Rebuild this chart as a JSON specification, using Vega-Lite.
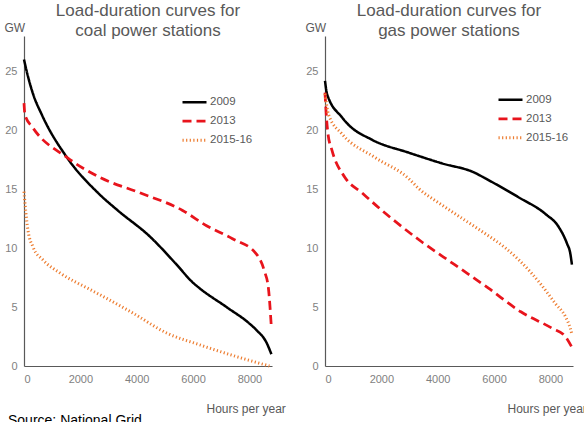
{
  "$schema": "https://vega.github.io/schema/vega-lite/v6.json",
  "padding": {"left": 4, "top": 2, "right": 0, "bottom": 0},
  "background": "white",
  "config": {
    "view": {"stroke": null},
    "font": "Liberation Sans",
    "axis": {"grid": false, "ticks": false, "domainColor": "#595959", "domainWidth": 1.2, "labelColor": "#7f7f7f", "labelFontSize": 11, "labelPadding": 7, "titleFontWeight": "normal", "titleColor": "#595959", "titleFontSize": 12},
    "legend": {"orient": "none", "title": null, "symbolType": "stroke", "symbolSize": 576, "rowPadding": 0, "padding": 0, "symbolOffset": 0, "labelOffset": 2, "labelFontSize": 11.5, "labelColor": "#595959"},
    "title": {"fontSize": 17, "fontWeight": "normal", "color": "#595959", "lineHeight": 20}
  },
  "datasets": {
    "coal": [
      {"s": "2009", "h": 0, "gw": 26.0}, {"s": "2009", "h": 106, "gw": 24.9}, {"s": "2009", "h": 319, "gw": 23.1}, {"s": "2009", "h": 637, "gw": 21.3}, {"s": "2009", "h": 1522, "gw": 17.7}, {"s": "2009", "h": 2620, "gw": 14.7}, {"s": "2009", "h": 3327, "gw": 13.2}, {"s": "2009", "h": 4460, "gw": 11.0}, {"s": "2009", "h": 5416, "gw": 8.6}, {"s": "2009", "h": 5982, "gw": 7.1}, {"s": "2009", "h": 6230, "gw": 6.6}, {"s": "2009", "h": 7186, "gw": 5.0}, {"s": "2009", "h": 8000, "gw": 3.6}, {"s": "2009", "h": 8248, "gw": 3.05}, {"s": "2009", "h": 8602, "gw": 2.0}, {"s": "2009", "h": 8779, "gw": 1.0},
      {"s": "2013", "h": 0, "gw": 22.3}, {"s": "2013", "h": 35, "gw": 21.3}, {"s": "2013", "h": 319, "gw": 20.2}, {"s": "2013", "h": 1522, "gw": 17.7}, {"s": "2013", "h": 2690, "gw": 16.0}, {"s": "2013", "h": 4106, "gw": 14.7}, {"s": "2013", "h": 5628, "gw": 13.2}, {"s": "2013", "h": 6478, "gw": 11.9}, {"s": "2013", "h": 7398, "gw": 10.8}, {"s": "2013", "h": 8248, "gw": 9.5}, {"s": "2013", "h": 8531, "gw": 8.05}, {"s": "2013", "h": 8673, "gw": 6.6}, {"s": "2013", "h": 8779, "gw": 3.2},
      {"s": "2015-16", "h": 0, "gw": 14.8}, {"s": "2015-16", "h": 35, "gw": 13.8}, {"s": "2015-16", "h": 142, "gw": 11.5}, {"s": "2015-16", "h": 319, "gw": 10.1}, {"s": "2015-16", "h": 673, "gw": 9.0}, {"s": "2015-16", "h": 1274, "gw": 7.9}, {"s": "2015-16", "h": 2336, "gw": 6.5}, {"s": "2015-16", "h": 2690, "gw": 6.05}, {"s": "2015-16", "h": 3858, "gw": 4.5}, {"s": "2015-16", "h": 5062, "gw": 2.8}, {"s": "2015-16", "h": 6230, "gw": 1.8}, {"s": "2015-16", "h": 7398, "gw": 0.9}, {"s": "2015-16", "h": 8708, "gw": 0.0}
    ],
    "gas": [
      {"s": "2009", "h": 0, "gw": 24.2}, {"s": "2009", "h": 71, "gw": 23.1}, {"s": "2009", "h": 602, "gw": 21.1}, {"s": "2009", "h": 779, "gw": 20.6}, {"s": "2009", "h": 1664, "gw": 19.2}, {"s": "2009", "h": 2973, "gw": 18.1}, {"s": "2009", "h": 4142, "gw": 17.2}, {"s": "2009", "h": 5310, "gw": 16.4}, {"s": "2009", "h": 5705, "gw": 15.9}, {"s": "2009", "h": 6159, "gw": 15.3}, {"s": "2009", "h": 6881, "gw": 14.3}, {"s": "2009", "h": 7822, "gw": 12.9}, {"s": "2009", "h": 8292, "gw": 11.8}, {"s": "2009", "h": 8585, "gw": 10.4}, {"s": "2009", "h": 8704, "gw": 9.55}, {"s": "2009", "h": 8762, "gw": 8.6},
      {"s": "2013", "h": 0, "gw": 23.2}, {"s": "2013", "h": 35, "gw": 21.7}, {"s": "2013", "h": 106, "gw": 19.7}, {"s": "2013", "h": 248, "gw": 18.3}, {"s": "2013", "h": 708, "gw": 16.0}, {"s": "2013", "h": 1310, "gw": 14.7}, {"s": "2013", "h": 2018, "gw": 13.2}, {"s": "2013", "h": 2372, "gw": 12.5}, {"s": "2013", "h": 3450, "gw": 10.5}, {"s": "2013", "h": 4600, "gw": 8.6}, {"s": "2013", "h": 5800, "gw": 6.6}, {"s": "2013", "h": 6950, "gw": 4.6}, {"s": "2013", "h": 8057, "gw": 3.2}, {"s": "2013", "h": 8528, "gw": 2.5}, {"s": "2013", "h": 8760, "gw": 1.6},
      {"s": "2015-16", "h": 0, "gw": 23.1}, {"s": "2015-16", "h": 130, "gw": 21.3}, {"s": "2015-16", "h": 600, "gw": 19.7}, {"s": "2015-16", "h": 1770, "gw": 17.7}, {"s": "2015-16", "h": 2973, "gw": 15.9}, {"s": "2015-16", "h": 3350, "gw": 15.0}, {"s": "2015-16", "h": 4000, "gw": 13.9}, {"s": "2015-16", "h": 4881, "gw": 12.5}, {"s": "2015-16", "h": 5705, "gw": 11.2}, {"s": "2015-16", "h": 6410, "gw": 10.0}, {"s": "2015-16", "h": 6881, "gw": 9.0}, {"s": "2015-16", "h": 7704, "gw": 6.8}, {"s": "2015-16", "h": 8175, "gw": 5.3}, {"s": "2015-16", "h": 8528, "gw": 4.2}, {"s": "2015-16", "h": 8704, "gw": 3.2}, {"s": "2015-16", "h": 8770, "gw": 2.6}
    ]
  },
  "title": {"text": "Source: National Grid", "orient": "bottom", "anchor": "start", "fontSize": 14, "color": "#000000", "offset": 0, "dx": 4},
  "spacing": 53,
  "bounds": "flush",
  "resolve": {
    "scale": {"color": "independent", "strokeDash": "independent", "strokeWidth": "independent"},
    "legend": {"color": "independent", "strokeDash": "independent", "strokeWidth": "independent"}
  },
  "hconcat": [
    {
      "width": 248,
      "height": 330,
      "data": {"name": "coal"},
      "title": {"text": ["Load-duration curves for", "coal power stations"], "frame": "group", "offset": -19, "anchor": "middle"},
      "mark": {"type": "line", "interpolate": "monotone"},
      "encoding": {
        "x": {"field": "h", "type": "quantitative", "scale": {"domain": [0, 8800], "nice": false}, "axis": {"values": [0, 2000, 4000, 6000, 8000], "format": "d", "title": "Hours per year", "titleAlign": "left", "titleX": 182, "titleY": 42, "titleBaseline": "middle"}},
        "y": {"field": "gw", "type": "quantitative", "scale": {"domain": [0, 28], "nice": false}, "axis": {"values": [0, 5, 10, 15, 20, 25], "title": "GW", "titleAngle": 0, "titleAlign": "left", "titleX": -20, "titleY": -9, "titleBaseline": "middle"}},
        "color": {"field": "s", "type": "nominal", "scale": {"domain": ["2009", "2013", "2015-16"], "range": ["#000000", "#e8141c", "#ed7d31"]}, "legend": {"legendX": 157, "legendY": 52.7}},
        "strokeDash": {"field": "s", "type": "nominal", "scale": {"domain": ["2009", "2013", "2015-16"], "range": [[1, 0], [9, 5], [1.2, 2.4]]}, "legend": {"legendX": 157, "legendY": 52.7}},
        "strokeWidth": {"field": "s", "type": "ordinal", "scale": {"domain": ["2009", "2013", "2015-16"], "range": [2.5, 3, 1.2]}, "legend": {"legendX": 157, "legendY": 52.7}}
      }
    },
    {
      "width": 248,
      "height": 330,
      "data": {"name": "gas"},
      "title": {"text": ["Load-duration curves for", "gas power stations"], "frame": "group", "offset": -19, "anchor": "middle"},
      "mark": {"type": "line", "interpolate": "monotone"},
      "encoding": {
        "x": {"field": "h", "type": "quantitative", "scale": {"domain": [0, 8800], "nice": false}, "axis": {"values": [0, 2000, 4000, 6000, 8000], "format": "d", "title": "Hours per year", "titleAlign": "left", "titleX": 182, "titleY": 42, "titleBaseline": "middle"}},
        "y": {"field": "gw", "type": "quantitative", "scale": {"domain": [0, 28], "nice": false}, "axis": {"values": [0, 5, 10, 15, 20, 25], "title": "GW", "titleAngle": 0, "titleAlign": "left", "titleX": -20, "titleY": -9, "titleBaseline": "middle"}},
        "color": {"field": "s", "type": "nominal", "scale": {"domain": ["2009", "2013", "2015-16"], "range": ["#000000", "#e8141c", "#ed7d31"]}, "legend": {"legendX": 172, "legendY": 50.3}},
        "strokeDash": {"field": "s", "type": "nominal", "scale": {"domain": ["2009", "2013", "2015-16"], "range": [[1, 0], [9, 5], [1.2, 2.4]]}, "legend": {"legendX": 172, "legendY": 50.3}},
        "strokeWidth": {"field": "s", "type": "ordinal", "scale": {"domain": ["2009", "2013", "2015-16"], "range": [2.5, 3, 1.2]}, "legend": {"legendX": 172, "legendY": 50.3}}
      }
    }
  ]
}
